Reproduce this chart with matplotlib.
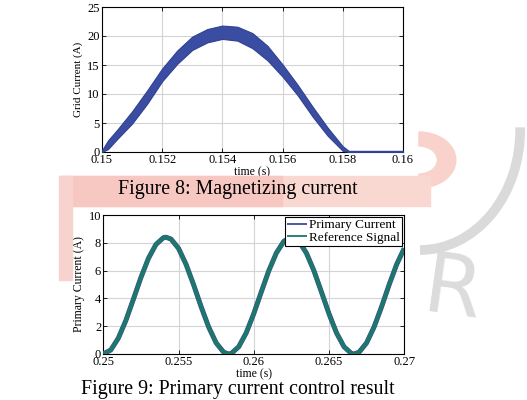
import matplotlib
matplotlib.use("Agg")
import matplotlib.pyplot as plt
from matplotlib.patches import Rectangle, Arc, Wedge

plt.rcParams['font.family'] = ['Liberation Serif', 'DejaVu Serif']

# ---- Figure 8 data: grid current band envelope ----
t8 = [0.1500, 0.1502, 0.1505, 0.1510, 0.1515, 0.1520, 0.1525, 0.1530, 0.1535,
      0.1540, 0.1545, 0.1550, 0.1555, 0.1560, 0.1565, 0.1570, 0.1575, 0.1580,
      0.1582, 0.1600]
i8_low = [0.0, 0.5, 2.2, 4.9, 8.3, 12.2, 15.2, 17.6, 18.9,
          19.5, 19.2, 17.9, 15.8, 13.0, 9.8, 6.1, 2.8, 0.2,
          0.0, 0.0]
i8_high = [0.3, 2.0, 3.8, 7.0, 10.6, 14.4, 17.5, 19.9, 21.2,
           21.8, 21.6, 20.5, 18.3, 15.1, 11.6, 7.8, 4.2, 1.0,
           0.2, 0.2]
x8_ticks = [0.150, 0.152, 0.154, 0.156, 0.158, 0.160]
x8_labels = ["0.15", "0.152", "0.154", "0.156", "0.158", "0.16"]
y8_ticks = [0, 5, 10, 15, 20, 25]

# ---- Figure 9 data: primary current / reference ----
t9 = [0.2500, 0.2505, 0.2510, 0.2515, 0.2520, 0.2525, 0.2530, 0.2535, 0.2540,
      0.25417, 0.2545, 0.2550, 0.2555, 0.2560, 0.2565, 0.2570, 0.2575, 0.2580,
      0.25833, 0.2585, 0.2590, 0.2595, 0.2600, 0.2605, 0.2610, 0.2615, 0.2620,
      0.2625, 0.2630, 0.2635, 0.2640, 0.2645, 0.2650, 0.2655, 0.2660, 0.2665,
      0.26667, 0.2670, 0.2675, 0.2680, 0.2685, 0.2690, 0.2695, 0.2700]
i9_ref = [0.00, 0.29, 1.14, 2.41, 3.94, 5.50, 6.88, 7.88, 8.37,
          8.40, 8.27, 7.60, 6.45, 4.99, 3.41, 1.95, 0.80, 0.13,
          0.00, 0.03, 0.52, 1.52, 2.90, 4.46, 5.99, 7.26, 8.11,
          8.40, 8.11, 7.26, 5.99, 4.46, 2.90, 1.52, 0.52, 0.03,
          0.00, 0.13, 0.80, 1.95, 3.41, 4.99, 6.45, 7.60]
i9_primary = i9_ref
x9_ticks = [0.25, 0.255, 0.26, 0.265, 0.27]
x9_labels = ["0.25", "0.255", "0.26", "0.265", "0.27"]
y9_ticks = [0, 2, 4, 6, 8, 10]

blue = "#3a4da2"
green = "#1d7868"

fig = plt.figure(figsize=(5.27, 4.0), dpi=100)
tf = fig.transFigure

# watermark-like background strokes (behind the plots)
fig.patches.append(Wedge((0.795, 0.60), 0.07, -90, 90, width=0.035, transform=tf,
                         color="#f9d2cb", zorder=0))
fig.patches.append(Rectangle((0.115, 0.485), 0.70, 0.075, transform=tf,
                             color="#fad8d2", zorder=0))
fig.patches.append(Rectangle((0.115, 0.485), 0.42, 0.075, transform=tf,
                             color="#f7c8c1", zorder=0))
fig.patches.append(Rectangle((0.112, 0.30), 0.025, 0.26, transform=tf,
                             color="#f8d2cc", zorder=0))
fig.patches.append(Arc((0.797, 0.675), 0.38, 0.60, angle=0, theta1=-90, theta2=2,
                       transform=tf, color="#dadada", lw=7, zorder=0))
fig.text(0.795, 0.27, "R", fontsize=60, color="#dcdcdc", family="DejaVu Sans",
         ha="left", va="center", rotation=-8, zorder=-1)


def style(ax):
    ax.tick_params(direction="in", top=True, right=True, labelsize=9,
                   length=3, width=0.6, pad=1.5)
    ax.grid(True, color="#d4d4d4", lw=0.8)
    ax.set_axisbelow(True)
    for s in ax.spines.values():
        s.set_linewidth(0.8)
        s.set_color("black")


# ---- top axes ----
ax1 = fig.add_axes([0.1935, 0.62, 0.571, 0.3625])
ax1.fill_between(t8, i8_low, i8_high, color=blue, lw=0.8, edgecolor="#30418f",
                 zorder=3)
ax1.set_xlim(0.15, 0.16)
ax1.set_ylim(0, 25)
ax1.set_xticks(x8_ticks)
ax1.set_xticklabels(x8_labels)
ax1.set_yticks(y8_ticks)
style(ax1)
ax1.set_xlabel("time (s)", fontsize=8.5, labelpad=0)
ax1.set_ylabel("Grid Current (A)", fontsize=8, labelpad=3)

fig.text(0.452, 0.527, "Figure 8: Magnetizing current", ha="center", va="center",
         fontsize=14.3)

# ---- bottom axes ----
ax2 = fig.add_axes([0.196, 0.115, 0.571, 0.3475])
ax2.plot(t9, i9_primary, color=blue, lw=3.6, solid_capstyle="butt",
         solid_joinstyle="round", label="Primary Current", zorder=3)
ax2.plot(t9, i9_ref, color=green, lw=2.8, solid_capstyle="butt",
         solid_joinstyle="round", label="Reference Signal", zorder=4)
ax2.set_xlim(0.25, 0.27)
ax2.set_ylim(0, 10)
ax2.set_xticks(x9_ticks)
ax2.set_xticklabels(x9_labels)
ax2.set_yticks(y9_ticks)
style(ax2)
ax2.set_xlabel("time (s)", fontsize=8.5, labelpad=0)
ax2.set_ylabel("Primary Current (A)", fontsize=8.5, labelpad=3)
leg = ax2.legend(loc="upper right", fontsize=9.5, frameon=True, fancybox=False,
                 edgecolor="black", framealpha=1, borderpad=0.15,
                 labelspacing=0.05, handlelength=1.5, handletextpad=0.2,
                 borderaxespad=0.15)
leg.get_frame().set_linewidth(0.8)
for h in leg.get_lines():
    h.set_linewidth(1.3)

fig.text(0.451, 0.026, "Figure 9: Primary current control result", ha="center",
         va="center", fontsize=14.3)

fig.savefig("out.png", dpi=100)
